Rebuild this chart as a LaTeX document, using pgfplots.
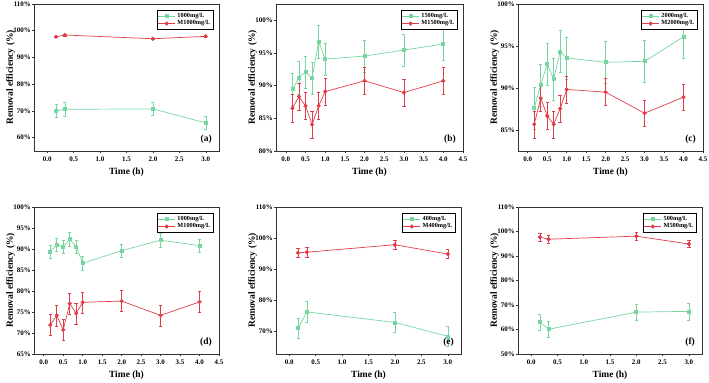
\documentclass[border=0pt]{standalone}
\usepackage{fontspec}
\setmainfont{Liberation Serif}
\usepackage{pgfplots}
\pgfplotsset{compat=1.18}
\definecolor{mgreen}{RGB}{118,214,160}
\definecolor{mred}{RGB}{226,60,72}
\pgfplotsset{
  panel/.style={
    scale only axis,
    anchor=south west,
    height=147bp,
    axis line style={line width=0.6pt, black!80},
    tick align=outside,
    xtick pos=bottom, ytick pos=left,
    major tick length=2pt,
    tick style={black!80, line width=0.5pt},
    /pgf/number format/assume math mode=true,
    ticklabel style={font=\fontsize{7}{8}\selectfont\bfseries},
    yticklabel style={inner sep=1pt},
    xticklabel style={/pgf/number format/.cd, fixed, fixed zerofill, precision=1},
    yticklabel={\pgfmathprintnumber{\tick}\%},
    xlabel={Time (h)},
    ylabel={Removal efficiency (\%)},
    ylabel shift=-6bp,
    label style={font=\fontsize{9.5}{10}\selectfont\bfseries},
    legend style={at={(0.97,0.96)}, anchor=north east, font=\fontsize{6.3}{7}\selectfont\bfseries, draw=black, line width=0.4pt, inner sep=1pt, row sep=-2pt},
    legend cell align=left,
    every axis plot/.append style={line width=0.7pt},
  },
  gser/.style={color=mgreen, mark=square*, mark size=1.5pt, error bars/.cd, y dir=both, y explicit, error bar style={line width=0.5pt}},
  rser/.style={color=mred, mark=*, mark size=1.7pt, error bars/.cd, y dir=both, y explicit, error bar style={line width=0.5pt}},
}
\newcommand{\plab}[1]{\node[anchor=south east, font=\fontsize{9.5}{10}\selectfont\bfseries] at (rel axis cs:0.98,0.03) {#1};}
\begin{document}
\begin{tikzpicture}
\path[use as bounding box] (0,0) rectangle (709bp,383bp);
% (a)
\begin{axis}[panel, at={(34bp,232bp)}, width=185bp, xmin=-0.25, xmax=3.25, ymin=55, ymax=110,
  xtick={0,0.5,1,1.5,2,2.5,3}, ytick={60,70,80,90,100,110}]
\addplot[gser] table[x=x,y=y,y error=e] {
x y e
0.167 70.0 2.5
0.333 70.6 2.5
2 70.75 2.5
3 65.5 2.5
};
\addlegendentry{1000mg/L}
\addplot[rser] table[x=x,y=y,y error=e] {
x y e
0.167 97.75 0.3
0.333 98.4 0.3
2 97.0 0.3
3 97.9 0.3
};
\addlegendentry{M1000mg/L}
\plab{(a)}
\end{axis}
% (b)
\begin{axis}[panel, at={(276bp,232bp)}, width=187bp, xmin=-0.25, xmax=4.5, ymin=80, ymax=102.5,
  xtick={0,0.5,1,1.5,2,2.5,3,3.5,4,4.5}, ytick={80,85,90,95,100}]
\addplot[gser] table[x=x,y=y,y error=e] {
x y e
0.167 89.46 2.5
0.333 91.25 2.5
0.5 92.07 2.5
0.667 91.15 2.5
0.833 96.73 2.5
1 94.07 2.5
2 94.53 2.5
3 95.45 2.5
4 96.37 2.5
};
\addlegendentry{1500mg/L}
\addplot[rser] table[x=x,y=y,y error=e] {
x y e
0.167 86.55 2.1
0.333 88.34 2.1
0.5 86.9 2.1
0.667 84.04 2.1
0.833 86.9 2.1
1 89.1 2.1
2 90.74 2.1
3 88.95 2.1
4 90.74 2.1
};
\addlegendentry{M1500mg/L}
\plab{(b)}
\end{axis}
% (c)
\begin{axis}[panel, at={(518bp,232bp)}, width=185bp, xmin=-0.25, xmax=4.5, ymin=82.5, ymax=100,
  xtick={0,0.5,1,1.5,2,2.5,3,3.5,4,4.5}, ytick={85,90,95,100}]
\addplot[gser] table[x=x,y=y,y error=e] {
x y e
0.167 87.6 2.5
0.333 90.39 2.5
0.5 92.82 2.5
0.667 91.07 2.5
0.833 94.34 2.5
1 93.58 2.5
2 93.06 2.5
3 93.18 2.5
4 96.09 2.5
};
\addlegendentry{2000mg/L}
\addplot[rser] table[x=x,y=y,y error=e] {
x y e
0.167 85.68 1.6
0.333 88.79 1.6
0.5 86.68 1.6
0.667 85.68 1.6
0.833 87.55 1.6
1 89.83 1.6
2 89.51 1.6
3 87.0 1.6
4 88.91 1.6
};
\addlegendentry{M2000mg/L}
\plab{(c)}
\end{axis}
% (d)
\begin{axis}[panel, at={(34bp,29bp)}, width=185bp, xmin=-0.25, xmax=4.5, ymin=65, ymax=100,
  xtick={0,0.5,1,1.5,2,2.5,3,3.5,4,4.5}, ytick={65,70,75,80,85,90,95,100}]
\addplot[gser] table[x=x,y=y,y error=e] {
x y e
0.167 89.4 1.6
0.333 91.0 1.6
0.5 90.5 1.6
0.667 92.3 1.6
0.833 90.6 1.6
1 86.6 1.6
2 89.6 1.6
3 92.1 1.6
4 90.8 1.6
};
\addlegendentry{1000mg/L}
\addplot[rser] table[x=x,y=y,y error=e] {
x y e
0.167 71.9 2.5
0.333 74.2 2.5
0.5 70.75 2.5
0.667 77.0 2.5
0.833 74.7 2.5
1 77.3 2.5
2 77.6 2.5
3 74.2 2.5
4 77.4 2.5
};
\addlegendentry{M1000mg/L}
\plab{(d)}
\end{axis}
% (e)
\begin{axis}[panel, at={(276bp,29bp)}, width=185bp, xmin=-0.25, xmax=3.25, ymin=62.5, ymax=110,
  xtick={0,0.5,1,1.5,2,2.5,3}, ytick={70,80,90,100,110}]
\addplot[gser] table[x=x,y=y,y error=e] {
x y e
0.167 70.8 3.3
0.333 76.1 3.3
2 72.7 3.3
3 68.2 3.3
};
\addlegendentry{400mg/L}
\addplot[rser] table[x=x,y=y,y error=e] {
x y e
0.167 95.2 1.5
0.333 95.4 1.5
2 97.8 1.5
3 94.8 1.5
};
\addlegendentry{M400mg/L}
\plab{(e)}
\end{axis}
% (f)
\begin{axis}[panel, at={(518bp,29bp)}, width=184bp, xmin=-0.25, xmax=3.25, ymin=50, ymax=110,
  xtick={0,0.5,1,1.5,2,2.5,3}, ytick={50,60,70,80,90,100,110}]
\addplot[gser] table[x=x,y=y,y error=e] {
x y e
0.167 63.0 3.4
0.333 60.1 3.4
2 67.1 3.4
3 67.4 3.4
};
\addlegendentry{500mg/L}
\addplot[rser] table[x=x,y=y,y error=e] {
x y e
0.167 97.7 1.5
0.333 96.85 1.5
2 98.1 1.5
3 94.9 1.5
};
\addlegendentry{M500mg/L}
\plab{(f)}
\end{axis}
\end{tikzpicture}
\end{document}
